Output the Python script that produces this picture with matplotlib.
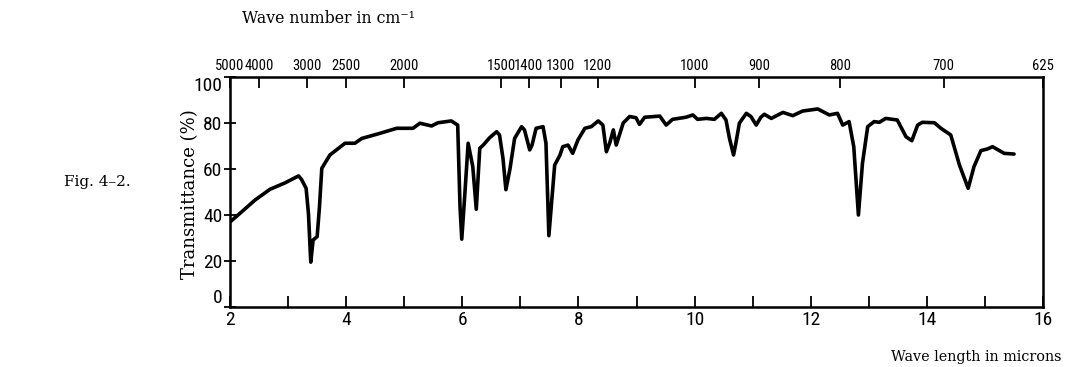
import matplotlib.pyplot as plt

# Espectro IR
wavelength = [2.00, 2.17, 2.43, 2.69, 2.95, 3.18, 3.23, 3.31, 3.35, 3.39, 3.43, 3.50,
              3.54, 3.58, 3.72, 3.98, 4.15, 4.27, 4.58, 4.87, 5.15, 5.27, 5.47, 5.58,
              5.81, 5.92, 5.96, 5.99, 6.04, 6.10, 6.18, 6.24, 6.30, 6.36, 6.47, 6.59,
              6.64, 6.70, 6.75, 6.82, 6.90, 7.02, 7.07, 7.16, 7.20, 7.27, 7.39, 7.44,
              7.49, 7.59, 7.68, 7.73, 7.82, 7.90, 7.99, 8.11, 8.22, 8.34, 8.42, 8.48,
              8.54, 8.60, 8.65, 8.77, 8.88, 8.99, 9.05, 9.14, 9.40, 9.51, 9.62, 9.85,
              9.97, 10.05, 10.20, 10.34, 10.46, 10.54, 10.60, 10.67, 10.71, 10.77, 10.89,
              10.97, 11.06, 11.14, 11.20, 11.32, 11.52, 11.69, 11.86, 12.12, 12.32, 12.46,
              12.55, 12.66, 12.74, 12.82, 12.89, 12.98, 13.09, 13.18, 13.29, 13.49, 13.64,
              13.74, 13.84, 13.92, 14.13, 14.24, 14.41, 14.56, 14.71, 14.81, 14.93, 15.04,
              15.13, 15.33, 15.50]
transmittance = [37.0, 40.7, 46.5, 51.2, 54.0, 57.0, 55.5, 51.6, 40.7, 19.5, 29.1, 30.6,
                 43.6, 60.3, 66.1, 71.2, 71.2, 73.3, 75.5, 77.7, 77.7, 79.9, 78.7, 80.1,
                 80.9, 79.1, 43.6, 29.5, 48.0, 71.2, 61.0, 42.5, 69.0, 70.4, 73.6, 76.2,
                 74.8, 64.6, 51.0, 60.0, 73.3, 78.4, 77.0, 68.3, 70.4, 77.7, 78.4, 71.2,
                 31.0, 61.7, 66.0, 69.7, 70.4, 66.8, 72.6, 77.7, 78.4, 80.9, 79.1, 67.5,
                 71.5, 77.0, 70.4, 80.0, 82.8, 82.3, 79.4, 82.5, 83.0, 79.1, 81.6, 82.5,
                 83.5, 81.6, 82.0, 81.6, 84.2, 81.3, 73.3, 66.1, 71.2, 79.9, 84.2,
                 82.8, 79.1, 82.5, 83.8, 82.0, 84.6, 83.2, 85.2, 86.1, 83.5, 84.2,
                 79.1, 80.6, 69.7, 40.0, 62.5, 78.4, 80.6, 80.3, 82.0, 81.3, 74.0,
                 72.3, 79.1, 80.3, 80.1, 77.7, 74.8, 61.7, 51.6, 61.0, 68.0, 68.7,
                 69.7, 66.8, 66.5]

# Eixos
x_ticks = list(range(2, 17))
x_labels = [str(v) if v % 2 == 0 else '' for v in x_ticks]
y_ticks = [0, 20, 40, 60, 80, 100]
wavenumbers = [5000, 4000, 3000, 2500, 2000, 1500, 1400, 1300, 1200, 1000, 900, 800, 700, 625]

tick_font = ['Roboto Condensed', 'DejaVu Sans']
serif_font = ['DejaVu Serif']

fig = plt.figure(figsize=(10.66, 3.67), dpi=100)
ax = fig.add_axes([0.2158, 0.1635, 0.7627, 0.6267])

ax.plot(wavelength, transmittance, color='black', linewidth=2.6,
        solid_joinstyle='round', solid_capstyle='round')

ax.set_xlim(2, 16)
ax.set_ylim(0, 100)
ax.set_xticks(x_ticks)
ax.set_xticklabels(x_labels, family=tick_font, fontstretch='condensed', fontsize=14)
ax.set_yticks(y_ticks)
ax.set_yticklabels([str(v) for v in y_ticks], family=tick_font,
                   fontstretch='condensed', fontsize=14)
ax.tick_params(axis='x', direction='in', length=8, width=1.3, pad=3)
ax.tick_params(axis='y', direction='inout', length=9, width=1.3, pad=1)
ylbls = ax.get_yticklabels()
ylbls[0].set_verticalalignment('bottom')
ylbls[-1].set_verticalalignment('top')
for s in ax.spines.values():
    s.set_linewidth(1.8)

# Eixo superior em número de onda
top = ax.twiny()
top.set_xlim(2, 16)
top.set_xticks([1e4 / w for w in wavenumbers])
top.set_xticklabels([str(w) for w in wavenumbers], family=tick_font,
                    fontstretch='condensed', fontsize=10.5)
top.tick_params(axis='x', direction='in', length=8, width=1.3, pad=3)

# Textos
fig.text(0.227, 0.95, 'Wave number in cm\u207b\u00b9', family=serif_font,
         fontsize=11.3, ha='left', va='center')
fig.text(0.178, 0.47, 'Transmittance (%)', family=serif_font, fontsize=13,
         rotation=90, ha='center', va='center')
fig.text(0.996, 0.027, 'Wave length in microns', family=serif_font, fontsize=10.4,
         ha='right', va='center')
fig.text(0.06, 0.504, 'Fig. 4\u20132.', family=serif_font, fontsize=11,
         ha='left', va='center')

fig.savefig('out.png', dpi=100)
